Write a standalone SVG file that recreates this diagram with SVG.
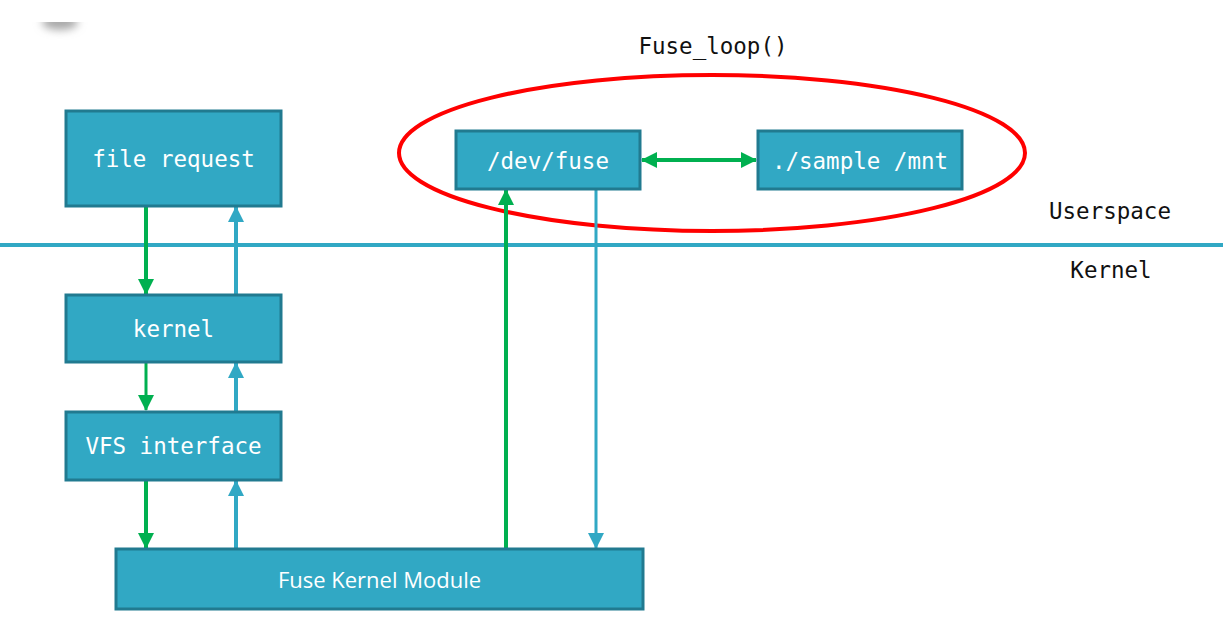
<svg xmlns="http://www.w3.org/2000/svg" width="1223" height="624" viewBox="0 0 1223 624">
<style>
.box{fill:#31a8c4;stroke:#217a90;stroke-width:3}
.mono{font-family:"DejaVu Sans Mono","Liberation Mono",monospace;font-size:22.5px}
.wt{fill:#ffffff}
.bk{fill:#111111}
.g{stroke:#00b050;fill:none}
.b{stroke:#31a8c4;fill:none}
</style>
<defs>
<marker id="ag" markerUnits="userSpaceOnUse" markerWidth="16" markerHeight="16" refX="15" refY="8" orient="auto-start-reverse" viewBox="0 0 16 16"><path d="M0,0 L16,8 L0,16 z" fill="#00b050"/></marker>
<marker id="ab" markerUnits="userSpaceOnUse" markerWidth="16" markerHeight="16" refX="15" refY="8" orient="auto" viewBox="0 0 16 16"><path d="M0,0 L16,8 L0,16 z" fill="#31a8c4"/></marker>
<filter id="blur" x="-50%" y="-100%" width="200%" height="300%"><feGaussianBlur stdDeviation="4"/></filter>
<clipPath id="shclip"><rect x="0" y="22" width="140" height="30"/></clipPath>
</defs>
<rect width="1223" height="624" fill="#ffffff"/>
<g clip-path="url(#shclip)"><ellipse cx="60" cy="22" rx="18" ry="8" fill="#a8a8a8" filter="url(#blur)"/></g>
<g id="divider"><line x1="0" y1="245" x2="1223" y2="245" stroke="#31a8c4" stroke-width="4"/></g>
<g id="fuse-loop">
<ellipse cx="712" cy="153" rx="313" ry="78" fill="none" stroke="#ff0000" stroke-width="4"/>
<text class="mono bk" x="713" y="54" text-anchor="middle">Fuse_loop()</text>
</g>
<g id="labels">
<text class="mono bk" x="1110" y="219" text-anchor="middle">Userspace</text>
<text class="mono bk" x="1111" y="278" text-anchor="middle">Kernel</text>
</g>
<g id="connectors">
<line class="g" x1="146" y1="206" x2="146" y2="294" stroke-width="4" marker-end="url(#ag)"/>
<line class="b" x1="236" y1="295" x2="236" y2="207" stroke-width="4" marker-end="url(#ab)"/>
<line class="g" x1="146" y1="363" x2="146" y2="410" stroke-width="3" marker-end="url(#ag)"/>
<line class="b" x1="236" y1="411" x2="236" y2="363" stroke-width="4" marker-end="url(#ab)"/>
<line class="g" x1="146" y1="480" x2="146" y2="548" stroke-width="4" marker-end="url(#ag)"/>
<line class="b" x1="236" y1="549" x2="236" y2="481" stroke-width="4" marker-end="url(#ab)"/>
<line class="g" x1="506" y1="549" x2="506" y2="190" stroke-width="4" marker-end="url(#ag)"/>
<line class="b" x1="596" y1="189" x2="596" y2="548" stroke-width="3" marker-end="url(#ab)"/>
<line class="g" x1="642" y1="160" x2="756" y2="160" stroke-width="4" marker-start="url(#ag)" marker-end="url(#ag)"/>
</g>
<g id="file-request"><rect class="box" x="66" y="111" width="215" height="95"/><text class="mono wt" x="173.5" y="167" text-anchor="middle">file request</text></g>
<g id="kernel"><rect class="box" x="66" y="295" width="215" height="67"/><text class="mono wt" x="173.5" y="337" text-anchor="middle">kernel</text></g>
<g id="vfs-interface"><rect class="box" x="66" y="412" width="215" height="68"/><text class="mono wt" x="173.5" y="454" text-anchor="middle">VFS interface</text></g>
<g id="fuse-kernel-module"><rect class="box" x="116" y="549" width="527" height="60"/><text class="wt" x="379.5" y="588" text-anchor="middle" font-family="'Open Sans','Liberation Sans',sans-serif" font-size="22">Fuse Kernel Module</text></g>
<g id="dev-fuse"><rect class="box" x="456" y="131" width="184" height="58"/><text class="mono wt" x="548" y="169" text-anchor="middle">/dev/fuse</text></g>
<g id="sample-mnt"><rect class="box" x="758" y="131" width="204" height="58"/><text class="mono wt" x="860" y="169" text-anchor="middle">./sample /mnt</text></g>
</svg>
